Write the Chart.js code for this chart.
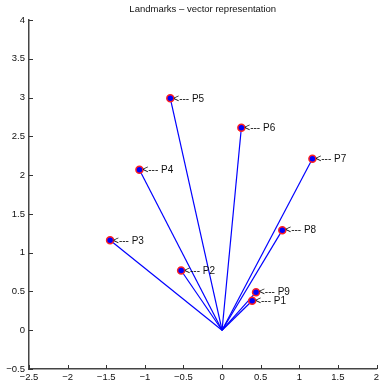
<!DOCTYPE html>
<html>
<head>
<meta charset="utf-8">
<script src="https://cdn.jsdelivr.net/npm/chart.js@4/dist/chart.umd.min.js"></script>
<style>
    html, body { margin: 0; padding: 0; background: #fff; overflow: hidden; }
    #wrap { width: 380px; height: 387px; overflow: hidden; }
</style>
</head>
<body>
<div id="wrap"><canvas id="landmarkChart" width="382" height="387"></canvas></div>
<script>
// Landmark positions (vectors from the origin)
const pointNames = ['P1', 'P2', 'P3', 'P4', 'P5', 'P6', 'P7', 'P8', 'P9'];
const xValues = [0.39, -0.53, -1.45, -1.07, -0.67, 0.25, 1.17, 0.78, 0.44];
const yValues = [0.38, 0.77, 1.16, 2.07, 2.99, 2.61, 2.21, 1.29, 0.49];

// Axis ticks
const xTicks = [-2.5, -2, -1.5, -1, -0.5, 0, 0.5, 1, 1.5, 2];
const yTicks = [-0.5, 0, 0.5, 1, 1.5, 2, 2.5, 3, 3.5, 4];

const chartTitle = 'Landmarks \u2013 vector representation';
const fontFamily = '"Liberation Sans", Arial, sans-serif';

function formatTick(value) {
    return String(value).replace('-', '\u2212');
}

// One line per landmark, from (0,0) to the point
const vectorSets = pointNames.map((name, i) => ({
    label: name + ' vector',
    data: [{ x: 0, y: 0 }, { x: xValues[i], y: yValues[i] }],
    showLine: true,
    borderColor: '#0000ff',
    borderWidth: 1.2,
    pointRadius: 0,
    order: 2
}));

const markerSet = {
    label: 'Landmarks',
    data: pointNames.map((name, i) => ({ x: xValues[i], y: yValues[i] })),
    showLine: false,
    pointRadius: 3.5,
    pointBackgroundColor: '#0000ff',
    pointBorderColor: '#ff2020',
    pointBorderWidth: 1.5,
    order: 1
};

// Title centred over the axes, plus inward tick marks (MATLAB style)
const axesDecor = {
    id: 'axesDecor',
    afterDraw(chart) {
        const ctx = chart.ctx;
        const area = chart.chartArea;
        const xs = chart.scales.x;
        const ys = chart.scales.y;
        ctx.save();
        ctx.font = '9.5px ' + fontFamily;
        ctx.fillStyle = '#111';
        ctx.textAlign = 'center';
        ctx.textBaseline = 'middle';
        ctx.fillText(chartTitle, (area.left + area.right) / 2, 9);

        ctx.strokeStyle = '#333';
        ctx.lineWidth = 1;
        ctx.beginPath();
        xTicks.forEach(v => {
            const px = Math.round(xs.getPixelForValue(v)) + 0.5;
            ctx.moveTo(px, area.bottom);
            ctx.lineTo(px, area.bottom - 4);
        });
        yTicks.forEach(v => {
            const py = Math.round(ys.getPixelForValue(v)) + 0.5;
            ctx.moveTo(area.left, py);
            ctx.lineTo(area.left + 4, py);
        });
        ctx.stroke();
        ctx.restore();
    }
};

// "<--- Pn" annotations next to each marker
const pointLabels = {
    id: 'pointLabels',
    afterDatasetsDraw(chart) {
        const ctx = chart.ctx;
        const xs = chart.scales.x;
        const ys = chart.scales.y;
        ctx.save();
        ctx.font = '10px ' + fontFamily;
        ctx.fillStyle = '#111';
        ctx.textAlign = 'left';
        ctx.textBaseline = 'middle';
        pointNames.forEach((name, i) => {
            const px = xs.getPixelForValue(xValues[i]);
            const py = ys.getPixelForValue(yValues[i]);
            ctx.fillText('<--- ' + name, px + 3, py + 0.5);
        });
        ctx.restore();
    }
};

const ctx = document.getElementById('landmarkChart').getContext('2d');
new Chart(ctx, {
    type: 'scatter',
    data: { datasets: [...vectorSets, markerSet] },
    options: {
        responsive: false,
        animation: false,
        layout: { padding: { left: 0, right: 0, top: 20, bottom: 0 } },
        plugins: {
            legend: { display: false },
            tooltip: { enabled: false },
            title: { display: false }
        },
        scales: {
            x: {
                type: 'linear',
                min: -2.5,
                max: 2,
                afterBuildTicks: scale => { scale.ticks = xTicks.map(v => ({ value: v })); },
                afterFit: scale => {
                    scale.height = 18;
                    scale.paddingLeft = 0;
                    scale.paddingRight = 0;
                },
                grid: { display: false, drawTicks: false },
                border: { display: true, color: '#444', width: 1.5 },
                ticks: {
                    padding: 3,
                    color: '#111',
                    maxRotation: 0,
                    autoSkip: false,
                    font: { family: fontFamily, size: 9.5 },
                    callback: v => formatTick(v)
                }
            },
            y: {
                type: 'linear',
                min: -0.5,
                max: 4,
                afterBuildTicks: scale => { scale.ticks = yTicks.map(v => ({ value: v })); },
                afterFit: scale => {
                    scale.width = 29;
                    scale.paddingTop = 0;
                    scale.paddingBottom = 0;
                },
                grid: { display: false, drawTicks: false },
                border: { display: true, color: '#444', width: 1.5 },
                ticks: {
                    padding: 4,
                    color: '#111',
                    autoSkip: false,
                    font: { family: fontFamily, size: 9.5 },
                    callback: v => formatTick(v)
                }
            }
        }
    },
    plugins: [axesDecor, pointLabels]
});
</script>
</body>
</html>
